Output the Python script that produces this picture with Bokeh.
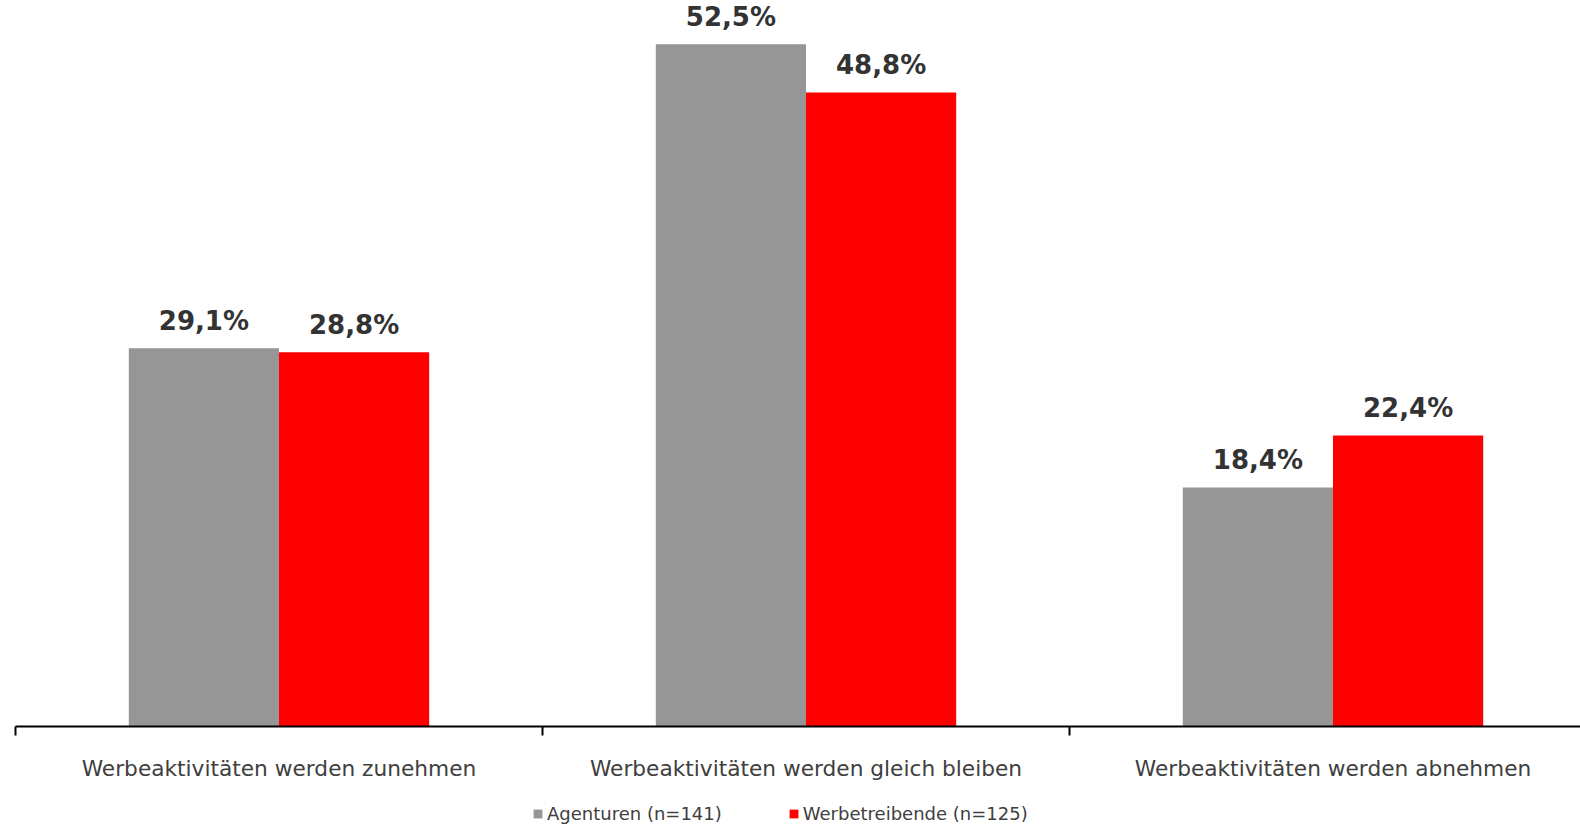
import numpy as np
from bokeh.plotting import figure
from bokeh.layouts import column
from bokeh.models import ColumnDataSource, Range1d, FixedTicker, Legend, LegendItem
from bokeh.core.properties import value
from bokeh.embed import file_html
from bokeh.resources import INLINE

categories = ["Werbeaktivitäten werden zunehmen",
              "Werbeaktivitäten werden gleich bleiben",
              "Werbeaktivitäten werden abnehmen"]
series_names = ["Agenturen (n=141)", "Werbetreibende (n=125)"]
agenturen = [29.1, 52.5, 18.4]
werbetreibende = [28.8, 48.8, 22.4]
colors = ["#969696", "#FF0000"]

n = len(categories)
centers = np.arange(n) + 0.5
bar_w = 0.285
offset = bar_w / 2

def fmt(v):
    return f"{v:.1f}".replace(".", ",") + "%"

W = 1580
FW = W - 15
main = figure(width=W, height=783, output_backend="svg", toolbar_location=None,
              x_range=Range1d(0, FW / 527), y_range=Range1d(0, 728 / 13.03),
              min_border_left=15, min_border_right=0, min_border_top=0,
              min_border_bottom=0)
main.outline_line_color = None
main.grid.visible = False
main.yaxis.visible = False
main.background_fill_color = "white"
main.border_fill_color = "white"

series_sources = []
for vals, dx, col in [(agenturen, -offset, colors[0]), (werbetreibende, offset, colors[1])]:
    src = ColumnDataSource(dict(x=centers + dx, top=vals, label=[fmt(v) for v in vals]))
    series_sources.append(src)
    main.vbar(x="x", top="top", bottom=0, width=bar_w, source=src,
              fill_color=col, line_color=None)
    main.text(x="x", y="top", text="label", source=src, text_align="center",
              text_baseline="middle", y_offset=-27,
              text_font=value("DejaVu Sans"), text_font_style="bold",
              text_font_size="26px", text_color="#333333")

ax = main.xaxis[0]
ax.ticker = FixedTicker(ticks=list(centers), minor_ticks=list(np.arange(n + 1)))
ax.major_label_overrides = {float(c): cat for c, cat in zip(centers, categories)}
ax.major_tick_out = 0
ax.major_tick_in = 0
ax.minor_tick_out = 9
ax.minor_tick_in = 0
ax.minor_tick_line_color = "black"
ax.minor_tick_line_width = 2
ax.axis_line_color = "black"
ax.axis_line_width = 2
ax.major_label_standoff = 20
ax.major_label_text_font = "DejaVu Sans"
ax.major_label_text_font_size = "21.7px"
ax.major_label_text_color = "#404040"

# legend strip below the chart (proxy bars lie outside its visible range)
leg = figure(width=W, height=44, output_backend="svg", toolbar_location=None,
             x_range=Range1d(100, 101), y_range=Range1d(100, 101),
             x_axis_location=None, y_axis_location=None,
             min_border_left=0, min_border_right=0, min_border_top=0,
             min_border_bottom=0)
leg.outline_line_color = None
leg.grid.visible = False
leg.background_fill_color = "white"
leg.border_fill_color = "white"

leg_renderers = []
for src, col in zip(series_sources, colors):
    r = leg.vbar(x="x", top="top", bottom=0, width=bar_w, source=src,
                 fill_color=col, line_color=None)
    leg_renderers.append(r)

legend = Legend(items=[LegendItem(label=series_names[i], renderers=[leg_renderers[i]]) for i in range(2)],
                orientation="horizontal", location=(517, 3),
                glyph_width=11, glyph_height=11, label_standoff=4, spacing=66,
                label_height=18,
                label_text_font="DejaVu Sans", label_text_font_size="18px",
                label_text_color="#404040", border_line_color=None,
                background_fill_alpha=0, padding=0, margin=0)
leg.add_layout(legend, "center")

layout = column(main, leg, spacing=0)
open("out.html", "w").write(file_html(layout, INLINE))
